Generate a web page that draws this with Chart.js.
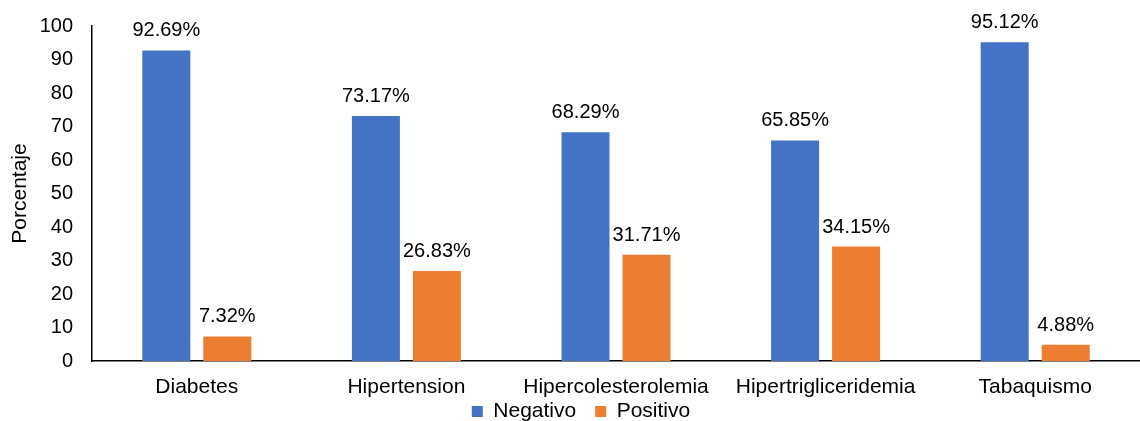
<!DOCTYPE html>
<html lang="es">
<head>
<meta charset="utf-8">
<title>Porcentaje por factor de riesgo</title>
<script src="https://cdn.jsdelivr.net/npm/chart.js@4.4.1/dist/chart.umd.min.js"></script>
<style>
  html, body { margin: 0; padding: 0; background: #ffffff; }
  #wrap { width: 1140px; height: 421px; position: relative; }
</style>
</head>
<body>
<div id="wrap"><canvas id="chart"></canvas></div>
<script>
// Factores de riesgo y porcentajes por resultado
const categories = ['Diabetes', 'Hipertension', 'Hipercolesterolemia', 'Hipertrigliceridemia', 'Tabaquismo'];
const negativo = [92.69, 73.17, 68.29, 65.85, 95.12];
const positivo = [7.32, 26.83, 31.71, 34.15, 4.88];
const yTicks = [0, 10, 20, 30, 40, 50, 60, 70, 80, 90, 100];

const FONT = '"Liberation Sans", Arial, sans-serif';

// Etiquetas de valor encima de cada barra
const valueLabels = {
  id: 'valueLabels',
  afterDatasetsDraw(chart) {
    const ctx = chart.ctx;
    ctx.save();
    ctx.font = '20px ' + FONT;
    ctx.fillStyle = '#000000';
    ctx.textAlign = 'center';
    ctx.textBaseline = 'alphabetic';
    chart.data.datasets.forEach((ds, i) => {
      const meta = chart.getDatasetMeta(i);
      meta.data.forEach((bar, j) => {
        ctx.fillText(ds.data[j].toFixed(2) + '%', bar.x, bar.y - 14);
      });
    });
    ctx.restore();
  }
};

// Desplaza ligeramente la leyenda (derecha y arriba) tras el cálculo del layout
const legendNudge = {
  id: 'legendNudge',
  afterLayout(chart) {
    const lg = chart.legend;
    if (!lg) return;
    lg.left += 11; lg.right += 11;
    lg.top -= 3; lg.bottom -= 3;
  }
};

new Chart(document.getElementById('chart'), {
  type: 'bar',
  data: {
    labels: categories,
    datasets: [
      { label: 'Negativo', data: negativo, backgroundColor: '#4472C4' },
      { label: 'Positivo', data: positivo, backgroundColor: '#ED7D31' }
    ]
  },
  options: {
    responsive: true,
    maintainAspectRatio: false,
    animation: false,
    layout: { padding: { top: 26, right: 0, bottom: -14, left: 0 } },
    datasets: {
      bar: { categoryPercentage: 0.582, barPercentage: 0.787 }
    },
    plugins: {
      legend: {
        position: 'bottom',
        labels: {
          boxWidth: 11,
          boxHeight: 11,
          padding: 19,
          color: '#000000',
          font: { family: FONT, size: 21 }
        }
      },
      tooltip: { enabled: false }
    },
    scales: {
      x: {
        // compact axis band; the category names may extend over the legend band
        afterFit(scale) {
          scale.height = 24;
          scale._computeLabelArea = () => undefined;
        },
        grid: { display: false, drawTicks: false },
        border: { display: true, color: '#000000', width: 1.5 },
        ticks: {
          color: '#000000',
          padding: 14,
          font: { family: FONT, size: 21 },
          maxRotation: 0,
          autoSkip: false
        }
      },
      y: {
        min: 0,
        max: 100,
        afterBuildTicks(scale) {
          scale.ticks = yTicks.map(v => ({ value: v }));
        },
        afterFit(scale) {
          scale.width = 92;
          scale.paddingTop = 0;
          scale.paddingBottom = 0;
        },
        grid: { display: false, drawTicks: false },
        border: { display: true, color: '#000000', width: 1.5 },
        title: {
          display: true,
          text: 'Porcentaje',
          color: '#000000',
          font: { family: FONT, size: 21 },
          padding: { top: 8, bottom: 0 }
        },
        ticks: {
          color: '#000000',
          padding: 19,
          font: { family: FONT, size: 20 }
        }
      }
    }
  },
  plugins: [valueLabels, legendNudge]
});
</script>
</body>
</html>
